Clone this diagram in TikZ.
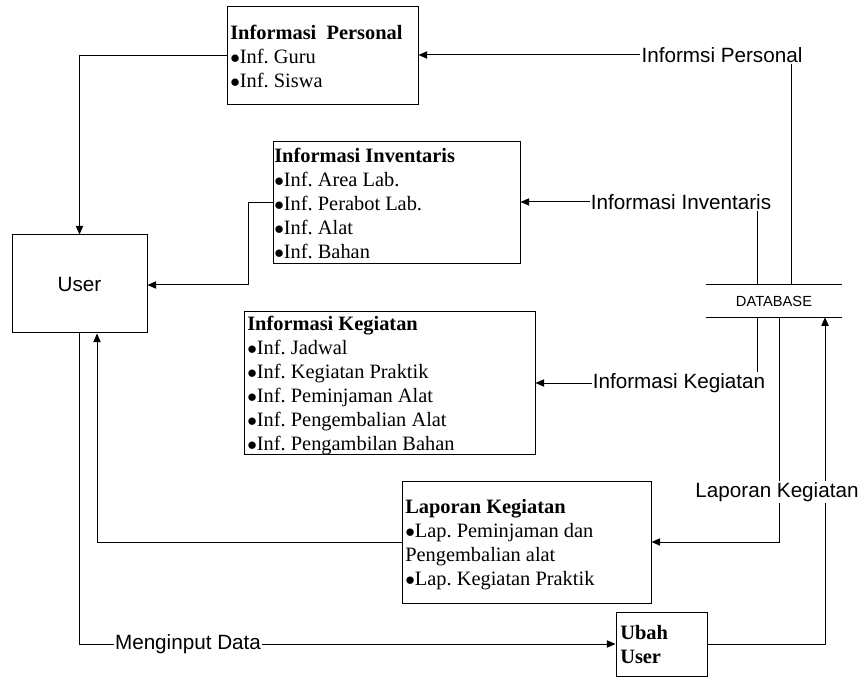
\documentclass[tikz,border=0pt]{standalone}
\usepackage{fontspec}
\setmainfont{Liberation Serif}
\newfontfamily\arial{Liberation Sans}
\usetikzlibrary{arrows.meta}
\newcommand\bul{$\bullet$}
\frenchspacing
\begin{document}
\begin{tikzpicture}[x=0.75pt,y=-0.75pt,
  box/.style={draw,line width=0.75pt,inner sep=0pt},
  boxtext/.style={anchor=north west,inner sep=0pt,align=left,font=\frenchspacing\fontsize{15.3}{18}\selectfont},
  flowlabel/.style={fill=white,inner sep=1pt,font=\arial\fontsize{15.5}{18}\selectfont},
  flow/.style={line width=0.75pt,-{Triangle[length=6.5pt,width=5.5pt]}},
  plain/.style={line width=0.75pt}]
\useasboundingbox (0,0) rectangle (864,677);
% boxes
\node[box,minimum width=143.25pt,minimum height=73.5pt] (ip) at (322.5,56) {};
\node[box,minimum width=185.25pt,minimum height=91.5pt] (ii) at (396.5,203) {};
\node[box,minimum width=218.25pt,minimum height=106.5pt] (ik) at (389.5,383) {};
\node[box,minimum width=186.75pt,minimum height=91.5pt] (lk) at (526.5,542) {};
\node[box,minimum width=68.25pt,minimum height=48pt] (ubah) at (661.5,644) {};
\node[box,minimum width=101.25pt,minimum height=73.5pt,font=\arial\fontsize{15.5}{18}\selectfont] (user) at (79.5,284) {User};
\node[inner sep=0pt,minimum width=102pt,minimum height=24pt,font=\arial\fontsize{11}{13}\selectfont] (db) at (774,301) {DATABASE};
\draw[plain] (db.north west) -- (db.north east);
\draw[plain] (db.south west) -- (db.south east);
% box texts
\node[boxtext] (ipt) at (230,25) {\textbf{Informasi~~Personal}\\\bul Inf. Guru\\\bul Inf. Siswa};
\node[boxtext] (iit) at (274,148) {\textbf{Informasi Inventaris}\\\bul Inf. Area Lab.\\\bul Inf. Perabot Lab.\\\bul Inf. Alat\\\bul Inf. Bahan};
\node[boxtext] (ikt) at (247,316) {\textbf{Informasi Kegiatan}\\\bul Inf. Jadwal\\\bul Inf. Kegiatan Praktik\\\bul Inf. Peminjaman Alat\\\bul Inf. Pengembalian Alat\\\bul Inf. Pengambilan Bahan};
\node[boxtext] (lkt) at (405,499) {\textbf{Laporan Kegiatan}\\\bul Lap. Peminjaman dan\\Pengembalian alat\\\bul Lap. Kegiatan Praktik};
\node[boxtext] (ubt) at (620,625) {\textbf{Ubah}\\\textbf{User}};
% junction coordinates
\coordinate (c1) at (791,55);
\coordinate (c2) at (757,202);
\coordinate (c3) at (757,383);
\coordinate (c4) at (779,542);
\coordinate (c5) at (825,644);
% flows from database
\draw[flow] (db.north -| c1) -- (c1) -- (ip.east |- c1);
\draw[flow] (db.north -| c2) -- (c2) -- (ii.east |- c2);
\draw[flow] (db.south -| c3) -- (c3) -- (ik.east);
\draw[flow] (db.south -| c4) -- (c4) -- (lk.east);
\draw[flow] (ubah.east) -- (c5) -- (db.south -| c5);
% flows to user
\draw[flow] (ip.west) -- (ip.west -| user.north) -- (user.north);
\coordinate (c6) at (248,285);
\draw[flow] (ii.west) -- (ii.west -| c6) -- (c6) -- (c6 -| user.east);
\coordinate (c7) at (97,542);
\draw[flow] (lk.west) -- (c7) -- (c7 |- user.south);
\draw[flow] (user.south) -- (user.south |- ubah.west) -- (ubah.west);
% labels
\node[flowlabel] (l1) at (722,55) {Informsi Personal};
\node[flowlabel] (l2) at (681,202) {Informasi Inventaris};
\node[flowlabel] (l3) at (679,383) {Informasi Kegiatan};
\node[flowlabel] (l4) at (777,492) {Laporan Kegiatan};
\node[flowlabel] (l5) at (188,644) {Menginput Data};
\end{tikzpicture}
\end{document}
